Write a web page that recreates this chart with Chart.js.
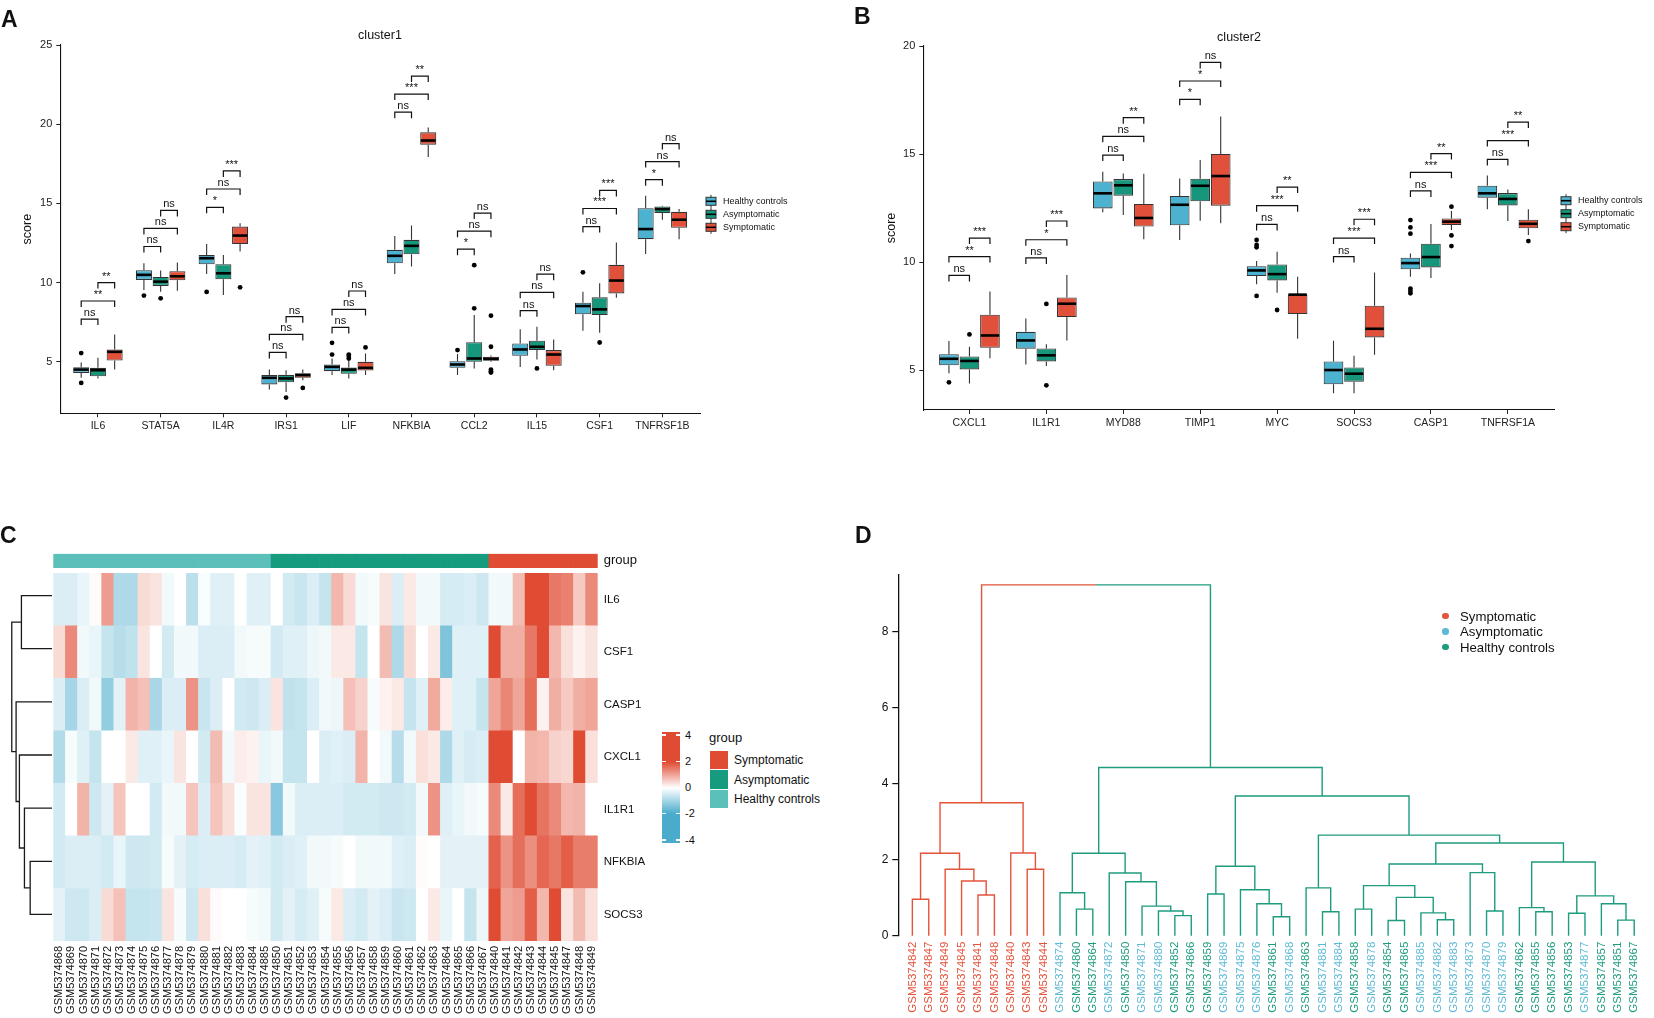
<!DOCTYPE html>
<html>
<head>
<meta charset="utf-8">
<script src="https://cdn.jsdelivr.net/npm/chart.js@4.4.1/dist/chart.umd.min.js"></script>
<style>
  body { margin: 0; background: #fff; }
  #page { position: relative; width: 1654px; height: 1018px; overflow: hidden; background: #fff;
          font-family: "Liberation Sans", Arial, Helvetica, sans-serif; color: #111; }
  .box { position: absolute; }
  .t { position: absolute; line-height: 1; white-space: nowrap; }
</style>
</head>
<body>
<div id="page">
  <div class="box" style="left:0;top:0;width:830px;height:450px"><canvas id="chartA"></canvas></div>
  <div class="box" style="left:830px;top:0;width:824px;height:450px"><canvas id="chartB"></canvas></div>
  <div class="box" style="left:0;top:540px;width:660px;height:478px"><canvas id="chartC"></canvas></div>
  <div class="box" style="left:0;top:569px;width:52px;height:372px"><canvas id="chartCtree"></canvas></div>
  <div class="box" style="left:850px;top:540px;width:804px;height:478px"><canvas id="chartD"></canvas></div>
</div>
<script>
// ---------- data ----------
const groupNames = ['Healthy controls', 'Asymptomatic', 'Symptomatic'];

// panel A (cluster1): [lower whisker, Q1, median, Q3, upper whisker] per gene
const genesA = ['IL6', 'STAT5A', 'IL4R', 'IRS1', 'LIF', 'NFKBIA', 'CCL2', 'IL15', 'CSF1', 'TNFRSF1B'];
const yTicksA = [5, 10, 15, 20, 25];
const aHealthy = [
  [4.00, 4.30, 4.51, 4.66, 4.96], [9.54, 10.17, 10.49, 10.78, 11.22], [10.55, 11.16, 11.54, 11.75, 12.43],
  [3.25, 3.57, 3.99, 4.16, 4.51], [4.16, 4.41, 4.68, 4.83, 5.21], [10.55, 11.22, 11.69, 12.07, 12.95],
  [4.16, 4.62, 4.83, 5.04, 5.50], [4.68, 5.38, 5.78, 6.16, 7.05], [6.96, 8.00, 8.52, 8.73, 9.43],
  [11.81, 12.74, 13.38, 14.70, 15.49]
];
const aHealthyOut = [[5.55, 3.67], [9.18], [9.41], [], [6.20, 5.46], [], [5.74], [], [10.65], []];
const aAsym = [
  [3.95, 4.09, 4.47, 4.62, 5.25], [9.43, 9.79, 10.06, 10.36, 10.76], [9.22, 10.21, 10.59, 11.16, 11.75],
  [3.10, 3.71, 3.95, 4.18, 4.47], [3.95, 4.24, 4.51, 4.64, 5.05], [11.01, 11.79, 12.32, 12.70, 13.61],
  [4.58, 5.00, 5.21, 6.24, 7.95], [5.15, 5.74, 5.95, 6.33, 7.22], [6.84, 7.95, 8.31, 9.07, 9.96],
  [13.97, 14.39, 14.64, 14.81, 14.85]
];
const aAsymOut = [[], [9.01], [], [2.74], [5.46, 5.36, 5.21], [], [8.38, 11.10], [4.58], [6.22], []];
const aSympt = [
  [4.51, 5.08, 5.63, 5.78, 6.73], [9.49, 10.15, 10.40, 10.72, 11.27], [11.96, 12.43, 12.97, 13.54, 13.75],
  [3.84, 3.99, 4.16, 4.28, 4.51], [4.16, 4.45, 4.62, 5.00, 5.53], [17.93, 18.71, 18.97, 19.49, 19.79],
  [5.00, 5.06, 5.19, 5.32, 5.40], [4.47, 4.75, 5.46, 5.74, 6.41], [9.05, 9.32, 10.13, 11.12, 12.53],
  [12.74, 13.46, 13.97, 14.47, 14.64]
];
const aSymptOut = [[], [], [9.70], [3.35], [5.91], [], [7.91, 5.95, 4.51, 4.41, 4.32], [], [], []];
// bracket heights: [HC vs Asym, HC vs Sym, Asym vs Sym]
const aBracketY = [[7.70, 8.84, 10.00], [12.28, 13.42, 14.56], [14.75, 15.91, 17.05], [5.59, 6.73, 7.85],
  [7.17, 8.31, 9.47], [20.76, 21.90, 23.04], [12.11, 13.25, 14.39], [8.23, 9.39, 10.53],
  [13.54, 14.68, 15.82], [16.50, 17.64, 18.78]];
const aBracketLab = [['ns', '**', '**'], ['ns', 'ns', 'ns'], ['*', 'ns', '***'], ['ns', 'ns', 'ns'],
  ['ns', 'ns', 'ns'], ['ns', '***', '**'], ['*', 'ns', 'ns'], ['ns', 'ns', 'ns'],
  ['ns', '***', '***'], ['*', 'ns', 'ns']];

// panel B (cluster2)
const genesB = ['CXCL1', 'IL1R1', 'MYD88', 'TIMP1', 'MYC', 'SOCS3', 'CASP1', 'TNFRSF1A'];
const yTicksB = [5, 10, 15, 20];
const bHealthy = [
  [4.85, 5.22, 5.52, 5.73, 6.34], [5.26, 5.99, 6.37, 6.77, 7.39], [12.30, 12.48, 13.18, 13.73, 14.18],
  [11.02, 11.70, 12.65, 13.06, 13.87], [8.97, 9.35, 9.61, 9.81, 10.05], [3.92, 4.34, 5.00, 5.40, 6.36],
  [9.32, 9.66, 9.95, 10.20, 10.40], [12.44, 12.98, 13.18, 13.53, 14.01]
];
const bHealthyOut = [[4.43], [], [], [], [11.02, 10.79, 10.68, 8.43], [], [11.94, 11.60, 11.31, 8.77, 8.66, 8.55], []];
const bAsym = [
  [4.38, 5.03, 5.42, 5.63, 6.08], [5.19, 5.40, 5.68, 6.00, 6.19], [12.18, 13.07, 13.55, 13.84, 14.10],
  [11.91, 12.81, 13.53, 13.86, 14.72], [8.58, 9.15, 9.44, 9.89, 10.48], [3.92, 4.46, 4.83, 5.12, 5.66],
  [9.26, 9.75, 10.23, 10.85, 11.76], [11.90, 12.62, 12.92, 13.19, 13.36]
];
const bAsymOut = [[6.65], [8.06, 4.29], [], [], [7.78], [], [], []];
const bSympt = [
  [5.54, 6.03, 6.60, 7.56, 8.63], [6.37, 7.45, 8.07, 8.36, 9.40], [11.05, 11.64, 12.04, 12.69, 14.09],
  [11.79, 12.61, 13.98, 15.00, 16.74], [6.45, 7.59, 8.49, 8.50, 9.32], [5.71, 6.51, 6.91, 7.98, 9.51],
  [11.48, 11.71, 11.87, 12.02, 12.36], [11.25, 11.56, 11.77, 11.96, 12.44]
];
const bSymptOut = [[], [], [], [], [], [], [12.56, 11.23, 10.74], [10.97]];
const bBracketY = [[9.38, 10.25, 11.11], [10.19, 11.03, 11.90], [14.95, 15.82, 16.68], [17.53, 18.38, 19.24],
  [11.74, 12.61, 13.47], [10.25, 11.11, 11.98], [13.29, 14.15, 15.02], [14.75, 15.62, 16.48]];
const bBracketLab = [['ns', '**', '***'], ['ns', '*', '***'], ['ns', 'ns', '**'], ['*', '*', 'ns'],
  ['ns', '***', '**'], ['ns', '***', '***'], ['ns', '***', '**'], ['ns', '***', '**']];

// panel C heatmap (row z-scores, columns in sample order)
const heatRows = ['IL6', 'CSF1', 'CASP1', 'CXCL1', 'IL1R1', 'NFKBIA', 'SOCS3'];
const heatHealthy = ['GSM5374868', 'GSM5374869', 'GSM5374870', 'GSM5374871', 'GSM5374872', 'GSM5374873',
  'GSM5374874', 'GSM5374875', 'GSM5374876', 'GSM5374877', 'GSM5374878', 'GSM5374879', 'GSM5374880',
  'GSM5374881', 'GSM5374882', 'GSM5374883', 'GSM5374884', 'GSM5374885'];
const heatAsym = ['GSM5374850', 'GSM5374851', 'GSM5374852', 'GSM5374853', 'GSM5374854', 'GSM5374855',
  'GSM5374856', 'GSM5374857', 'GSM5374858', 'GSM5374859', 'GSM5374860', 'GSM5374861', 'GSM5374862',
  'GSM5374863', 'GSM5374864', 'GSM5374865', 'GSM5374866', 'GSM5374867'];
const heatSympt = ['GSM5374840', 'GSM5374841', 'GSM5374842', 'GSM5374843', 'GSM5374844', 'GSM5374845',
  'GSM5374847', 'GSM5374848', 'GSM5374849'];
const zIL6 = [-0.4, -0.4, -0.25, 0.05, 1.1, -0.9, -0.9, 0.4, 0.3, -0.15, 0, -0.75, -0.05, -0.35, -0.35, 0, -0.35, -0.35,
  0, -0.5, -0.6, -0.4, -0.65, 0.8, 0.4, -0.15, -0.1, 0.3, -0.4, 0.25, -0.15, -0.15, -0.45, -0.45, -0.4, -0.55,
  -0.15, -0.15, 0.75, 2.6, 2.8, 1.5, 1.4, 0.6, 1.3];
const zCSF1 = [0.4, 1.3, -0.15, -0.25, -0.65, -0.8, -0.7, 0.3, 0, -0.5, -0.15, -0.15, -0.4, -0.4, -0.4, -0.15, -0.1, -0.1,
  -0.5, -0.35, -0.35, -0.2, -0.15, 0.25, 0.25, -0.65, 0, 0.75, -0.9, 0.4, 0, 0.25, -1.4, -0.35, -0.35, -0.35,
  2.4, 0.9, 0.9, 1.5, 2.6, 0.8, 0.35, 0.15, 0.3];
const zCASP1 = [-0.4, -1.0, -0.4, -0.15, -1.2, -0.3, 0.85, 0.7, -0.95, -0.4, -0.4, 1.2, -0.6, -0.4, 0, -0.5, -0.55, -0.4,
  0.3, -0.7, -0.65, -0.4, -0.15, -0.2, 0.7, 0.5, -0.1, 0.15, 0.25, -0.65, -0.35, 0.95, 0.2, -0.35, -0.35, -0.65,
  1.0, 1.35, 1.0, 1.6, 0.15, 0.9, 0.6, 0.9, 1.0];
const zCXCL1 = [-0.85, -0.1, -0.35, -0.65, 0, 0, 0.25, -0.35, -0.35, -0.25, 0.3, 0, -0.5, 0.75, -0.15, 0.2, 0.15, -0.25,
  -0.15, -0.65, -0.65, 0, -0.4, -0.35, -0.4, 0.85, 0, -0.15, -0.8, -0.15, 0.35, 0.25, -0.9, -0.35, -0.45, -0.4,
  2.7, 2.5, 0, 0.85, 0.8, 0.5, 0.45, 2.3, 0.35];
const zIL1R1 = [-0.5, 0, 0.85, -0.55, -0.3, 0.65, 0, 0, -0.5, -0.15, -0.15, 0.65, -0.4, 0.65, 0.35, -0.05, 0.3, 0.3,
  -1.3, -0.15, -0.4, -0.4, -0.4, -0.4, -0.5, -0.5, -0.5, -0.55, -0.55, -0.5, -0.15, 1.2, -0.35, -0.25, -0.15, -0.1,
  1.3, 0.25, 1.6, 2.6, 1.55, 1.3, 0.8, 0.85, 0];
const zNFKBIA = [-0.5, -0.4, -0.4, -0.4, -0.5, -0.25, -0.55, -0.55, -0.5, -0.1, -0.3, -0.45, -0.4, -0.4, -0.4, -0.45, -0.3, -0.35,
  -0.5, -0.4, -0.35, -0.15, -0.15, -0.1, 0, -0.15, -0.15, -0.15, -0.35, -0.4, 0.05, 0, -0.3, -0.3, -0.3, -0.3,
  1.75, 1.2, 1.6, 1.25, 1.7, 1.5, 1.8, 1.45, 1.45];
const zSOCS3 = [-0.3, -0.55, -0.55, -0.4, 0.4, 0.7, -0.65, -0.65, -0.6, 0.3, -0.1, -0.55, 0.35, 0.05, 0, 0, -0.1, -0.15,
  -0.5, -0.3, -0.45, -0.35, -0.1, 0.25, -0.4, -0.5, -0.3, -0.4, -0.6, -0.55, 0, 0.25, -0.25, 0, -0.65, -0.2,
  2.4, 1.0, 1.1, 1.8, 0.8, 2.3, 0.3, 0.75, 0.35];
// row dendrogram: [left, right, height], leaves are row indices
const heatTree = [[0, 1, 3.04], [2, [3, [4, [5, 6, 2.17], 2.74], 3.24], 3.57], 4.0];
const colorTicks = [4, 2, 0, -2, -4];

// panel D sample dendrogram
const dendroLeaves = ['GSM5374842', 'GSM5374847', 'GSM5374849', 'GSM5374845', 'GSM5374841', 'GSM5374848',
  'GSM5374840', 'GSM5374843', 'GSM5374844', 'GSM5374874', 'GSM5374860', 'GSM5374864', 'GSM5374872',
  'GSM5374850', 'GSM5374871', 'GSM5374880', 'GSM5374852', 'GSM5374866', 'GSM5374859', 'GSM5374869',
  'GSM5374875', 'GSM5374876', 'GSM5374861', 'GSM5374868', 'GSM5374863', 'GSM5374881', 'GSM5374884',
  'GSM5374858', 'GSM5374878', 'GSM5374854', 'GSM5374865', 'GSM5374885', 'GSM5374882', 'GSM5374883',
  'GSM5374873', 'GSM5374870', 'GSM5374879', 'GSM5374862', 'GSM5374855', 'GSM5374856', 'GSM5374853',
  'GSM5374877', 'GSM5374857', 'GSM5374851', 'GSM5374867'];
const dendroTree = [
  [[[0, 1, 0.96], [2, [3, [4, 5, 1.07], 1.44], 1.75], 2.17], [6, [7, 8, 1.75], 2.18], 3.50],
  [
    [[9, [10, 11, 0.70], 1.13], [12, [13, [14, [15, [16, 17, 0.53], 0.65], 0.78], 1.42], 1.65], 2.17],
    [
      [[18, 19, 1.10], [20, [21, [22, 23, 0.50], 0.84], 1.21], 1.83],
      [
        [24, [25, 26, 0.63], 1.26],
        [
          [[[27, 28, 0.70], [[29, 30, 0.40], [31, [32, 33, 0.42], 0.60], 1.01], 1.32], [34, [35, 36, 0.65], 1.66], 1.89],
          [[37, [38, 39, 0.63], 0.74], [[40, 41, 0.59], [42, [43, 44, 0.41], 0.84], 1.05], 1.94],
          2.44
        ],
        2.65
      ],
      3.68
    ],
    4.43
  ],
  9.24
];
const dendroTicks = [0, 2, 4, 6, 8];

// ---------- colours ----------
const boxFill = ['#4DB1D0', '#16977B', '#E1503A'];
const heatRed = [224, 75, 51], heatBlue = [74, 171, 204];
const heatGroupColor = { 'Healthy controls': '#5CC0BA', 'Asymptomatic': '#169B7F', 'Symptomatic': '#E04B33' };
const dRed = '#E4533B', dGreen = '#1E9C7F', dBlue = '#5DB9D6';

Chart.defaults.font.family = '"Liberation Sans", Arial, Helvetica, sans-serif';
Chart.defaults.color = '#111';

const page = document.getElementById('page');
function label(txt, x, baseline, size, o = {}) {
  const el = document.createElement('div');
  el.className = 't';
  el.textContent = txt;
  el.style.fontSize = size + 'px';
  el.style.top = (baseline - 0.8465 * size) + 'px';
  el.style.left = x + 'px';
  if (o.bold) el.style.fontWeight = 'bold';
  if (o.color) el.style.color = o.color;
  if (o.center) el.style.transform = 'translateX(-50%)';
  page.appendChild(el);
  return el;
}
function block(x, y, w, h, bg) {
  const el = document.createElement('div');
  el.style.cssText = `position:absolute;left:${x}px;top:${y}px;width:${w}px;height:${h}px;background:${bg}`;
  page.appendChild(el);
  return el;
}

// ---------- panels A and B: box plots ----------
function boxChart(id, genes, stats, outs, brY, brLab, yMin, yMax, yTicks, lay) {
  const pairs = [[0, 1], [0, 2], [1, 2]];
  const parts = {
    id: 'boxparts',
    afterDatasetsDraw(chart) {
      const ctx = chart.ctx, ys = chart.scales.y;
      ctx.save();
      stats.forEach((s, g) => {
        const meta = chart.getDatasetMeta(g);
        s.forEach((q, i) => {
          const el = meta.data[i];
          const x = el.x, w = el.width;
          ctx.strokeStyle = '#333';
          ctx.lineWidth = 1.1;
          ctx.beginPath();
          ctx.moveTo(x, ys.getPixelForValue(q[4]));
          ctx.lineTo(x, ys.getPixelForValue(q[3]));
          ctx.moveTo(x, ys.getPixelForValue(q[1]));
          ctx.lineTo(x, ys.getPixelForValue(q[0]));
          ctx.stroke();
          const ym = ys.getPixelForValue(q[2]);
          ctx.strokeStyle = '#000';
          ctx.lineWidth = 2.6;
          ctx.beginPath();
          ctx.moveTo(x - w / 2 + 0.6, ym);
          ctx.lineTo(x + w / 2 - 0.6, ym);
          ctx.stroke();
          ctx.fillStyle = '#000';
          outs[g][i].forEach(v => {
            ctx.beginPath();
            ctx.arc(x, ys.getPixelForValue(v), 2.4, 0, Math.PI * 2);
            ctx.fill();
          });
        });
      });
      // significance brackets
      ctx.strokeStyle = '#111';
      ctx.lineWidth = 1.2;
      ctx.fillStyle = '#111';
      ctx.font = '11px "Liberation Sans", Arial, sans-serif';
      ctx.textAlign = 'center';
      ctx.textBaseline = 'alphabetic';
      genes.forEach((gname, i) => {
        pairs.forEach((p, k) => {
          const xl = chart.getDatasetMeta(p[0]).data[i].x;
          const xr = chart.getDatasetMeta(p[1]).data[i].x;
          const yy = ys.getPixelForValue(brY[i][k]);
          ctx.beginPath();
          ctx.moveTo(xl, yy + 6);
          ctx.lineTo(xl, yy);
          ctx.lineTo(xr, yy);
          ctx.lineTo(xr, yy + 6);
          ctx.stroke();
          ctx.fillText(brLab[i][k], (xl + xr) / 2, yy - 3);
        });
      });
      // legend
      const kx = chart.chartArea.right + lay.legDx;
      ctx.font = '9px "Liberation Sans", Arial, sans-serif';
      ctx.textAlign = 'left';
      ctx.textBaseline = 'middle';
      groupNames.forEach((name, g) => {
        const cy = lay.legY + g * 13;
        ctx.strokeStyle = '#333';
        ctx.lineWidth = 1;
        ctx.beginPath();
        ctx.moveTo(kx, cy - 6.5);
        ctx.lineTo(kx, cy + 6.5);
        ctx.stroke();
        ctx.fillStyle = boxFill[g];
        ctx.fillRect(kx - 5, cy - 4, 10, 8);
        ctx.strokeRect(kx - 5, cy - 4, 10, 8);
        ctx.lineWidth = 1.6;
        ctx.strokeStyle = '#000';
        ctx.beginPath();
        ctx.moveTo(kx - 5, cy);
        ctx.lineTo(kx + 5, cy);
        ctx.stroke();
        ctx.fillStyle = '#111';
        ctx.fillText(name, kx + 12, cy);
      });
      ctx.restore();
    }
  };
  return new Chart(document.getElementById(id), {
    type: 'bar',
    data: {
      datasets: stats.map((s, g) => ({
        label: groupNames[g],
        data: s.map((q, i) => ({ x: i, y: [q[1], q[3]] })),
        backgroundColor: boxFill[g],
        borderColor: '#333',
        borderWidth: 1.1,
        borderSkipped: false,
        categoryPercentage: 0.8,
        barPercentage: 0.96
      }))
    },
    options: {
      animation: false,
      responsive: true,
      maintainAspectRatio: false,
      layout: { padding: { top: lay.top, right: lay.right, left: 0, bottom: 0 } },
      plugins: { legend: { display: false }, tooltip: { enabled: false } },
      scales: {
        x: {
          type: 'linear', min: -0.6, max: genes.length - 0.4, offset: false,
          afterFit: s => { s.height = lay.xh; },
          afterBuildTicks: s => { s.ticks = genes.map((g, i) => ({ value: i })); },
          grid: { drawOnChartArea: false, drawTicks: true, tickLength: 4, color: '#222', offset: false },
          border: { display: true, color: '#111', width: 1.1 },
          ticks: { autoSkip: false, maxRotation: 0, padding: 3, color: '#222', font: { size: 10.5 },
                   callback: (v, i) => genes[i] }
        },
        y: {
          min: yMin, max: yMax,
          afterFit: s => { s.width = lay.yw; },
          afterBuildTicks: s => { s.ticks = yTicks.map(v => ({ value: v })); },
          grid: { drawOnChartArea: false, drawTicks: true, tickLength: 4, color: '#222' },
          border: { display: true, color: '#111', width: 1.1 },
          ticks: { padding: 4, color: '#222', font: { size: 11 } },
          title: { display: true, text: 'score', color: '#111', font: { size: 12.5 },
                   padding: { top: lay.titlePad, bottom: 0 } }
        }
      }
    },
    plugins: [parts]
  });
}

boxChart('chartA', genesA, [aHealthy, aAsym, aSympt], [aHealthyOut, aAsymOut, aSymptOut],
  aBracketY, aBracketLab, 1.75, 25, yTicksA,
  { top: 45, right: 130, xh: 36.7, yw: 60.3, titlePad: 20.3, legDx: 11, legY: 201.3 });
boxChart('chartB', genesB, [bHealthy, bAsym, bSympt], [bHealthyOut, bAsymOut, bSymptOut],
  bBracketY, bBracketLab, 3.15, 20, yTicksB,
  { top: 46, right: 100, xh: 40, yw: 93.3, titlePad: 53.7, legDx: 12, legY: 200.7 });

// ---------- tree helper ----------
function walkTree(node, segs, off, colorOf) {
  if (typeof node === 'number') return { pos: node + off, h: 0, leaves: [node] };
  const L = walkTree(node[0], segs, off, colorOf);
  const R = walkTree(node[1], segs, off, colorOf);
  const H = node[2], mid = (L.pos + R.pos) / 2;
  segs.push({ pts: [[L.pos, L.h], [L.pos, H], [mid, H]], color: colorOf(L.leaves) });
  segs.push({ pts: [[mid, H], [R.pos, H], [R.pos, R.h]], color: colorOf(R.leaves) });
  return { pos: mid, h: H, leaves: L.leaves.concat(R.leaves) };
}
function segsToSets(segs, horizontal, width) {
  const colors = [...new Set(segs.map(s => s.color))];
  return colors.map(c => {
    const data = [];
    segs.filter(s => s.color === c).forEach(s => {
      s.pts.forEach(([p, h]) => data.push(horizontal ? { x: h, y: p } : { x: p, y: h }));
      data.push(horizontal ? { x: 0, y: null } : { x: s.pts[0][0], y: null });
    });
    return { data, showLine: true, spanGaps: false, borderColor: c, borderWidth: width,
             pointRadius: 0, pointHoverRadius: 0, tension: 0, clip: false };
  });
}

// ---------- panel C: heatmap ----------
const heatSamples = heatHealthy.concat(heatAsym, heatSympt);
const heatZ = [zIL6, zCSF1, zCASP1, zCXCL1, zIL1R1, zNFKBIA, zSOCS3];
const heatGap = 0.107, heatBand = 0.263;
function groupOfSample(s) {
  if (heatSympt.includes(s)) return 'Symptomatic';
  if (heatAsym.includes(s)) return 'Asymptomatic';
  return 'Healthy controls';
}
function heatColor(v) {
  const t = Math.max(-1, Math.min(1, v / 2));
  const c = t >= 0 ? heatRed : heatBlue, a = Math.abs(t);
  const mix = k => Math.round(255 + (c[k] - 255) * a);
  return `rgb(${mix(0)},${mix(1)},${mix(2)})`;
}
const heatTickVals = heatRows.map((r, i) => i + 0.5).concat([7 + heatGap + heatBand / 2]);
const heatTickLabs = heatRows.slice().reverse().concat(['group']);

new Chart(document.getElementById('chartC'), {
  type: 'bar',
  data: {
    labels: heatSamples,
    datasets: heatRows.map((r, i) => i).reverse().map(r => ({
      label: heatRows[r],
      data: heatSamples.map(() => 1),
      backgroundColor: heatZ[r].map(heatColor),
      borderWidth: 0, barPercentage: 1, categoryPercentage: 1
    })).concat([
      { label: 'gap', data: heatSamples.map(() => heatGap), backgroundColor: 'rgba(0,0,0,0)',
        borderWidth: 0, barPercentage: 1, categoryPercentage: 1 },
      { label: 'group', data: heatSamples.map(() => heatBand),
        backgroundColor: heatSamples.map(s => heatGroupColor[groupOfSample(s)]),
        borderWidth: 0, barPercentage: 1, categoryPercentage: 1 }
    ])
  },
  options: {
    animation: false,
    responsive: true,
    maintainAspectRatio: false,
    layout: { padding: { left: 53.3, top: 9.3, right: 0, bottom: 0 } },
    plugins: { legend: { display: false }, tooltip: { enabled: false } },
    scales: {
      x: {
        stacked: true,
        afterFit: s => { s.height = 77; },
        grid: { display: false, drawTicks: false },
        border: { display: false },
        ticks: { autoSkip: false, minRotation: 90, maxRotation: 90, padding: 5, color: '#111', font: { size: 11 } }
      },
      y: {
        stacked: true, position: 'right', min: 0, max: 7 + heatGap + heatBand,
        afterFit: s => { s.width = 62.3; },
        afterBuildTicks: s => { s.ticks = heatTickVals.map(v => ({ value: v })); },
        grid: { display: false, drawTicks: false },
        border: { display: false },
        ticks: { autoSkip: false, padding: 6, color: '#111',
                 font: ctx => ({ size: ctx.index === heatTickVals.length - 1 ? 13 : 11.5 }),
                 callback: (v, i) => heatTickLabs[i] }
      }
    }
  }
});

const heatSegs = [];
walkTree(heatTree, heatSegs, 0.5, () => '#1a1a1a');
new Chart(document.getElementById('chartCtree'), {
  type: 'scatter',
  data: { datasets: segsToSets(heatSegs, true, 1.3) },
  options: {
    animation: false, responsive: true, maintainAspectRatio: false,
    layout: { padding: 0 },
    plugins: { legend: { display: false }, tooltip: { enabled: false } },
    scales: {
      x: { type: 'linear', display: false, min: 0, max: 5.17, reverse: true },
      y: { type: 'linear', display: false, min: 0, max: 7, reverse: true }
    }
  }
});

// colour bar and group legend for C
const cbTop = 731.7, cbLeft = 661.7, cbW = 18.3, cbH = 111.6, tick4 = 735, tickStep = 26.25;
block(cbLeft, cbTop, cbW, cbH,
  'linear-gradient(to bottom, rgb(224,75,51) 0%, rgb(224,75,51) 26.9%, #fff 50.4%, rgb(74,171,204) 73.7%, rgb(74,171,204) 100%)');
colorTicks.forEach(v => {
  const y = tick4 + (4 - v) / 2 * tickStep;
  block(cbLeft, y - 0.7, 4, 1.4, '#fff');
  block(cbLeft + cbW - 4, y - 0.7, 4, 1.4, '#fff');
  label(String(v), 685, y + 0.36 * 11, 11);
});
label('group', 709, 742.3, 13);
['Symptomatic', 'Asymptomatic', 'Healthy controls'].forEach((g, k) => {
  const top = 750.7 + k * 19.4;
  block(710, top, 18.3, 18.6, heatGroupColor[g]);
  label(g, 734, top + 9.3 + 0.36 * 12, 12);
});

// ---------- panel D: sample dendrogram ----------
function dendroLabelColor(name) {
  if (heatSympt.includes(name)) return dRed;
  if (heatHealthy.includes(name)) return dBlue;
  return dGreen;
}
const dSegs = [];
walkTree(dendroTree, dSegs, 0, leaves => leaves.every(i => heatSympt.includes(dendroLeaves[i])) ? dRed : dGreen);
new Chart(document.getElementById('chartD'), {
  type: 'scatter',
  data: { datasets: segsToSets(dSegs, false, 1.4) },
  options: {
    animation: false, responsive: true, maintainAspectRatio: false,
    layout: { padding: { top: 35, left: 0, right: 0, bottom: 0 } },
    plugins: { legend: { display: false }, tooltip: { enabled: false } },
    scales: {
      x: {
        type: 'linear', min: -0.857, max: 44.125,
        afterFit: s => { s.height = 82.3; },
        afterBuildTicks: s => { s.ticks = dendroLeaves.map((n, i) => ({ value: i })); },
        grid: { display: false, drawTicks: false },
        border: { display: false },
        ticks: { autoSkip: false, minRotation: 90, maxRotation: 90, padding: 6, font: { size: 11.5 },
                 color: ctx => dendroLabelColor(dendroLeaves[ctx.index]),
                 callback: (v, i) => dendroLeaves[i] }
      },
      y: {
        type: 'linear', min: 0, max: 9.5,
        afterFit: s => { s.width = 48.3; },
        afterBuildTicks: s => { s.ticks = dendroTicks.map(v => ({ value: v })); },
        grid: { drawOnChartArea: false, drawTicks: true, tickLength: 6, color: '#111', lineWidth: 1.2 },
        border: { display: true, color: '#111', width: 1.3 },
        ticks: { padding: 4, color: '#111', font: { size: 12 } }
      }
    }
  }
});
// legend for D
[['Symptomatic', dRed], ['Asymptomatic', dBlue], ['Healthy controls', dGreen]].forEach(([name, c], k) => {
  const cy = 616 + k * 15.5;
  const dot = block(1442.4, cy - 3.3, 6.6, 6.6, c);
  dot.style.borderRadius = '50%';
  label(name, 1460, cy + 0.36 * 13.2, 13.2);
});

// ---------- panel letters and titles ----------
label('A', 1, 27, 23, { bold: true });
label('B', 854, 24.5, 23, { bold: true });
label('C', 0, 543, 23, { bold: true });
label('D', 855, 543, 23, { bold: true });
label('cluster1', 380, 40, 12.5, { center: true });
label('cluster2', 1239, 41.5, 12.5, { center: true });
</script>
</body>
</html>
